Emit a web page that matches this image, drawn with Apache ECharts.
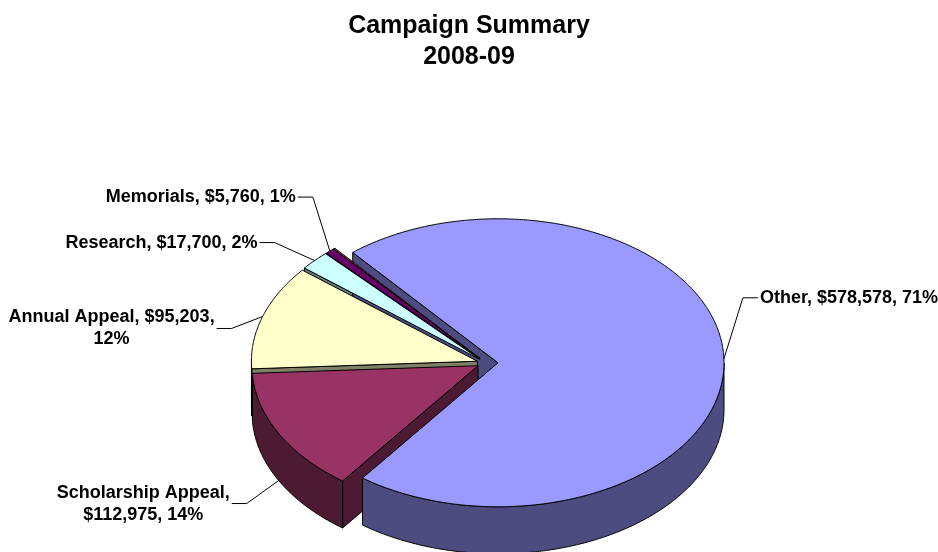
<!DOCTYPE html>
<html><head><meta charset="utf-8">
<script src="https://cdn.jsdelivr.net/npm/echarts@6/dist/echarts.min.js"></script>
<style>html,body{margin:0;padding:0;background:#fff}#c{width:938px;height:552px}</style>
</head><body><div id="c"></div>
<script>
// ---- data ----
const titleLines = ['Campaign Summary', '2008-09'];
const categories = ['Other', 'Scholarship Appeal', 'Annual Appeal', 'Research', 'Memorials', ''];
const amounts = [578578, 112975, 95203, 17700, 5760, 800];

// ---- style / layout ----
const topColors  = ['#9999FF', '#993366', '#FFFFCC', '#CCFFFF', '#660066', '#FF8080'];
const sideColors = ['#4C4C80', '#4D1A33', '#808066', '#668080', '#330033', '#804040'];
const G = { cx: 486, cy: 363, rx: 226, ry: 144, depth: 47, startAngle: 320 };
const explodePx = [12, 9, 9, 9, 9, 9];
const labelBreakAfter = [-1, 0, 1, -1, -1, -1];
const labelElbow = [[19, -61], [-32, 23], [-31, 12], [-40, -18], [-17, -54], null];
const FONT_FAMILY = '"Liberation Sans", Arial, Helvetica, sans-serif';

const sind = a => Math.sin(a * Math.PI / 180);
const cosd = a => Math.cos(a * Math.PI / 180);
const total = amounts.reduce((a, b) => a + b, 0);
const slices = [];
(function () {
  let acc = G.startAngle;
  amounts.forEach((v, i) => {
    const span = v / total * 360;
    const s = acc, e = acc + span, m = (s + e) / 2, d = explodePx[i];
    slices.push({ s, e, m, ox: d * sind(m), oy: -d * cosd(m) * G.ry / G.rx });
    acc = e;
  });
})();
function pt(sl, a, dz) { return [G.cx + sl.ox + G.rx * sind(a), G.cy + sl.oy - G.ry * cosd(a) + (dz || 0)]; }
function arc(sl, a, b, dz) {
  const n = Math.max(2, Math.ceil(Math.abs(b - a) * 2) + 1); const out = [];
  for (let k = 0; k < n; k++) out.push(pt(sl, a + (b - a) * k / (n - 1), dz));
  return out;
}
const mctx = document.createElement('canvas').getContext('2d');
mctx.font = 'bold 18px ' + FONT_FAMILY;

function renderWalls(params) {
  const i = params.dataIndex, sl = slices[i], D = G.depth, ch = [];
  const V = [G.cx + sl.ox, G.cy + sl.oy];
  const sty = { fill: sideColors[i], stroke: '#000', lineWidth: 1 };
  function addPoly(pts) {
    const maxY = Math.max.apply(null, pts.map(p => p[1]));
    ch.push({ type: 'polygon', shape: { points: pts }, style: sty, z2: Math.round(maxY * 10) });
  }
  if (sind(sl.s) < 0) { const P = pt(sl, sl.s); addPoly([V, P, [P[0], P[1] + D], [V[0], V[1] + D]]); }
  if (sind(sl.e) > 0) { const P = pt(sl, sl.e); addPoly([V, P, [P[0], P[1] + D], [V[0], V[1] + D]]); }
  [[90, 270], [450, 630]].forEach(([fa, fb]) => {
    const a = Math.max(sl.s, fa), b = Math.min(sl.e, fb);
    if (b > a) addPoly(arc(sl, a, b, 0).concat(arc(sl, b, a, D)));
  });
  return { type: 'group', children: ch };
}

function renderTops(params) {
  const i = params.dataIndex, sl = slices[i], D = G.depth, ch = [];
  const V = [G.cx + sl.ox, G.cy + sl.oy];
  ch.push({ type: 'polygon', shape: { points: [V].concat(arc(sl, sl.s, sl.e, 0)) },
    style: { fill: topColors[i], stroke: '#000', lineWidth: 1 }, z2: 10 });
  if (categories[i] && labelElbow[i]) {
    const parts = [categories[i] + ',', '$' + amounts[i].toLocaleString('en-US') + ',',
      Math.round(amounts[i] / total * 100) + '%'];
    let text = '';
    parts.forEach((p, k) => { text += p; if (k < parts.length - 1) text += (labelBreakAfter[i] === k ? '\n' : ' '); });
    const anchor = pt(sl, sl.m, cosd(sl.m) < 0 ? D : 0);
    const elbow = [anchor[0] + labelElbow[i][0], anchor[1] + labelElbow[i][1]];
    const right = labelElbow[i][0] > 0;
    const end = [elbow[0] + (right ? 15 : -15), elbow[1]];
    ch.push({ type: 'polyline', shape: { points: [anchor, elbow, end] },
      style: { stroke: '#000', lineWidth: 1, fill: null }, z2: 1000 });
    const w = Math.max.apply(null, text.split('\n').map(l => mctx.measureText(l).width));
    const x = right ? end[0] + 2 + w / 2 : end[0] - 2 - w / 2;
    ch.push({ type: 'text', z2: 1001, style: { text, x, y: end[1], align: 'center', verticalAlign: 'middle',
      fill: '#000', fontSize: 18, fontWeight: 'bold', fontFamily: FONT_FAMILY, lineHeight: 22 } });
  }
  return { type: 'group', children: ch };
}

const chart = echarts.init(document.getElementById('c'), null, { renderer: 'canvas' });
chart.setOption({
  animation: false,
  backgroundColor: '#fff',
  title: { text: titleLines.join('\n'), left: 'center', top: 6,
    textStyle: { fontSize: 25, fontWeight: 'bold', color: '#000', lineHeight: 31, fontFamily: FONT_FAMILY } },
  series: [
    { type: 'custom', coordinateSystem: 'none', silent: true, z: 1,
      data: amounts.map((v, i) => [i, v]), renderItem: renderWalls },
    { type: 'custom', coordinateSystem: 'none', silent: true, z: 2,
      data: amounts.map((v, i) => [i, v]), renderItem: renderTops }
  ]
});
</script></body></html>
